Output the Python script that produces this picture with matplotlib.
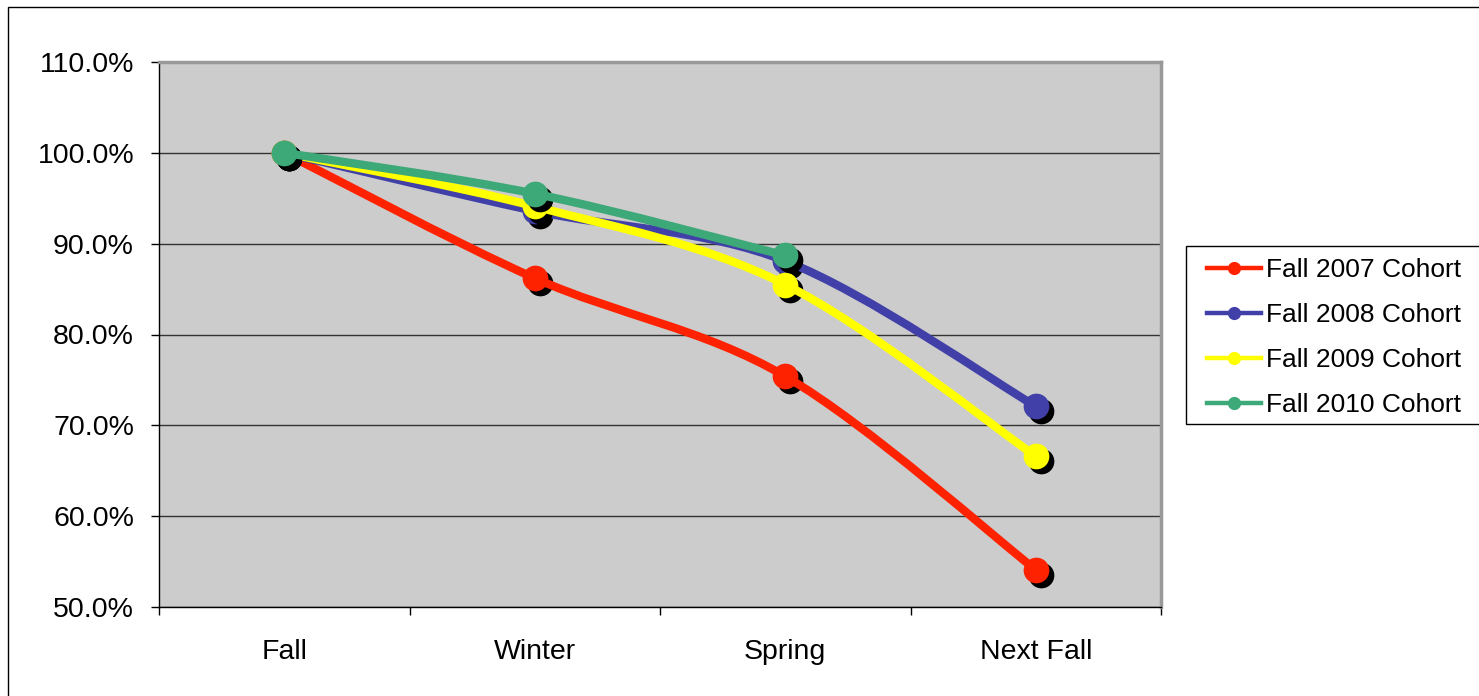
import matplotlib
matplotlib.use("Agg")
import matplotlib.pyplot as plt
from matplotlib.path import Path
from matplotlib.patches import PathPatch, Rectangle
from matplotlib.lines import Line2D
from matplotlib.transforms import ScaledTranslation

plt.rcParams["font.family"] = ["Liberation Sans", "DejaVu Sans"]

terms = ["Fall", "Winter", "Spring", "Next Fall"]
labels = ["Fall 2007 Cohort", "Fall 2008 Cohort", "Fall 2009 Cohort", "Fall 2010 Cohort"]
colors = ["#FF2200", "#4040A8", "#FFFF00", "#3DA878"]

# retention relative to the first fall term, in percent
fall_2007 = [100.0, 86.2, 75.4, 54.1]
fall_2008 = [100.0, 93.6, 88.1, 72.1]
fall_2009 = [100.0, 94.1, 85.5, 66.6]
fall_2010 = [100.0, 95.5, 88.7]

series = [fall_2007, fall_2008, fall_2009, fall_2010]

W, H, DPI = 1479, 696, 100
fig = plt.figure(figsize=(W / DPI, H / DPI), dpi=DPI)

# outer chart border (right/bottom edges fall off the canvas)
fig.patches.append(Rectangle((8 / W, -0.1), 1.2, 1 - 7 / H + 0.1, transform=fig.transFigure,
                             fill=False, edgecolor="black", lw=1.0, zorder=0))

x0, x1, y0, y1 = 159, 1161, 62, 607
ax = fig.add_axes([x0 / W, 1 - y1 / H, (x1 - x0) / W, (y1 - y0) / H])
ax.set_facecolor("#CCCCCC")
ax.set_xlim(-0.5, 3.5)
ax.set_ylim(50, 110)

for name in ("top", "right"):
    ax.spines[name].set_color("#999999")
    ax.spines[name].set_linewidth(2.5)
for name in ("left", "bottom"):
    ax.spines[name].set_color("black")
    ax.spines[name].set_linewidth(1.0)

ax.set_yticks(range(50, 111, 10))
ax.set_yticklabels([f"{v:.1f}%" for v in range(50, 111, 10)], fontsize=20.5)
ax.tick_params(axis="y", length=6, width=1, pad=12)
ax.set_xticks(range(len(terms)))
ax.set_xticklabels(terms, fontsize=20.5)
ax.tick_params(axis="x", which="major", length=0, pad=23)
ax.set_xticks([-0.5, 0.5, 1.5, 2.5, 3.5], minor=True)
ax.tick_params(axis="x", which="minor", length=6, width=1)
ax.grid(axis="y", color="#333333", lw=1.0)
ax.set_axisbelow(True)


def smooth_path(xs, ys):
    # Excel-style smoothed line: cubic Bezier segments with Catmull-Rom control points
    pts = list(zip(xs, ys))
    n = len(pts)
    verts = [pts[0]]
    codes = [Path.MOVETO]
    for i in range(n - 1):
        p0 = pts[max(i - 1, 0)]
        p1 = pts[i]
        p2 = pts[i + 1]
        p3 = pts[min(i + 2, n - 1)]
        c1 = (p1[0] + (p2[0] - p0[0]) / 6, p1[1] + (p2[1] - p0[1]) / 6)
        c2 = (p2[0] - (p3[0] - p1[0]) / 6, p2[1] - (p3[1] - p1[1]) / 6)
        verts += [c1, c2, p2]
        codes += [Path.CURVE4] * 3
    return Path(verts, codes)


shadow = ax.transData + ScaledTranslation(5 / DPI, -5 / DPI, fig.dpi_scale_trans)
handles = []
for k, (vals, col, lab) in enumerate(zip(series, colors, labels)):
    xs = list(range(len(vals)))
    z = 3 + k * 3
    ax.plot(xs, vals, "o", color="black", ms=18.5, mec="none", transform=shadow, zorder=z,
            clip_on=False)
    ax.add_patch(PathPatch(smooth_path(xs, vals), fill=False, edgecolor=col, lw=6,
                           capstyle="round", joinstyle="round", zorder=z + 1))
    ax.plot(xs, vals, "o", color=col, ms=18.5, mec="none", zorder=z + 2, clip_on=False)
    handles.append(Line2D([], [], color=col, lw=3.2, marker="o", ms=9.5, mec="none"))

# legend box drawn separately so its edge can run off the right side
fig.patches.append(Rectangle((1186 / W, 1 - 424 / H), 0.5, (424 - 246) / H,
                             transform=fig.transFigure, facecolor="white",
                             edgecolor="black", lw=1.0, zorder=1))
leg = fig.legend(handles, labels, loc="upper left",
                 bbox_to_anchor=(1207 / W, 1 - 258 / H),
                 fontsize=19, frameon=False,
                 handlelength=2.05, handletextpad=0.2, labelspacing=0.8,
                 borderpad=0, borderaxespad=0)

fig.savefig("out.png", dpi=DPI)
